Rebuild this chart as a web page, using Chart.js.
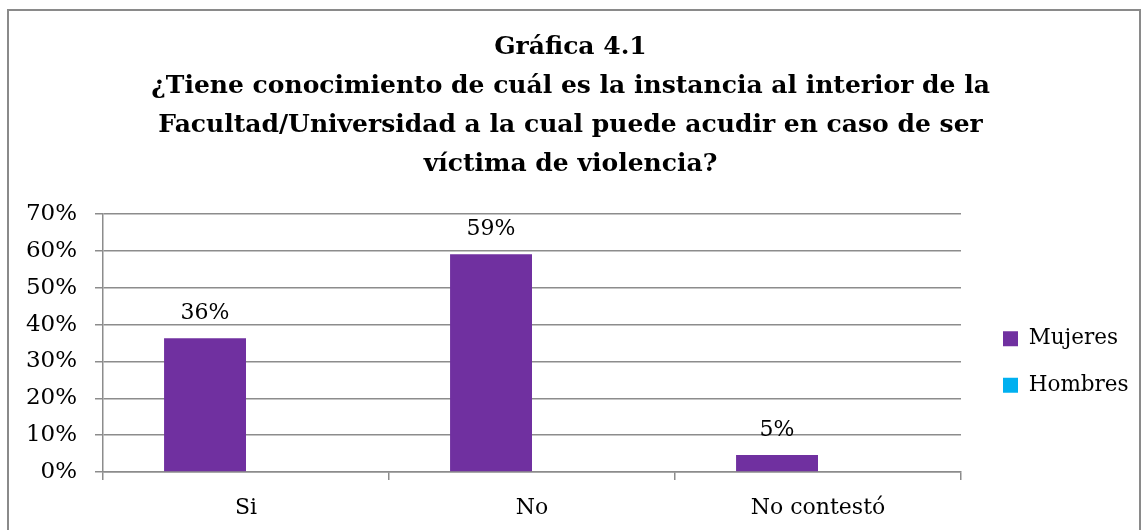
<!DOCTYPE html>
<html>
<head>
<meta charset="utf-8">
<script src="https://cdn.jsdelivr.net/npm/chart.js@4"></script>
<style>
    html, body { margin: 0; padding: 0; background: #fff; overflow: hidden; }
    #wrap { position: relative; width: 1141px; height: 530px; }
    #frame {
        position: absolute; left: 7px; top: 9px; width: 1130px; height: 540px;
        border: 2px solid #8a8a8a; pointer-events: none;
    }
</style>
</head>
<body>
<div id="wrap">
    <canvas id="chart" width="1141" height="530"></canvas>
    <div id="frame"></div>
</div>
<script>
// ############ data ############
const categories = ["Si", "No", "No contestó"];
const mujeres = [36.3, 59.1, 4.6];
const hombres = [null, null, null];
const yTicks = [0, 10, 20, 30, 40, 50, 60, 70];
const titleLines = [
    "Gráfica 4.1",
    "¿Tiene conocimiento de cuál es la instancia al interior de la",
    "Facultad/Universidad a la cual puede acudir en caso de ser",
    "víctima de violencia?",
];

const FONT = "'DejaVu Serif', serif";
const GRID = "#8c8c8c";

// fixed legend width, then nudge the legend box into place
const legendPlace = {
    id: "legendPlace",
    afterInit(chart) {
        const lg = chart.legend;
        const fit = lg.fit;
        lg.fit = function () {
            fit.call(this);
            this.width = 180;
        };
    },
    afterLayout(chart) {
        const lg = chart.legend;
        lg.left += 17;
        lg.right += 17;
        lg.top += 97;
        lg.bottom += 97;
    },
};

// value labels above the Mujeres bars
const barLabels = {
    id: "barLabels",
    afterDatasetsDraw(chart) {
        const ctx = chart.ctx;
        const meta = chart.getDatasetMeta(0);
        ctx.save();
        ctx.font = "22px " + FONT;
        ctx.fillStyle = "#000";
        ctx.textAlign = "center";
        ctx.textBaseline = "middle";
        meta.data.forEach((bar, i) => {
            const v = chart.data.datasets[0].data[i];
            ctx.fillText(Math.round(v) + "%", bar.x, bar.y - 25);
        });
        ctx.restore();
    },
};

new Chart(document.getElementById("chart").getContext("2d"), {
    type: "bar",
    data: {
        labels: categories,
        datasets: [
            {
                label: "Mujeres",
                data: mujeres,
                backgroundColor: "#7030A0",
                categoryPercentage: 0.573,
                barPercentage: 1,
            },
            {
                label: "Hombres",
                data: hombres,
                backgroundColor: "#00B0F0",
                categoryPercentage: 0.573,
                barPercentage: 1,
            },
        ],
    },
    options: {
        responsive: false,
        animation: false,
        layout: { padding: 0 },
        plugins: {
            title: {
                display: true,
                text: titleLines,
                color: "#000",
                font: { family: FONT, size: 25, weight: "bold", lineHeight: 1.56 },
                padding: { top: 27.5, bottom: 30.5 },
            },
            legend: {
                position: "right",
                labels: {
                    boxWidth: 15,
                    boxHeight: 15,
                    padding: 25,
                    color: "#000",
                    font: { family: FONT, size: 21.5 },
                },
            },
            tooltip: { enabled: false },
        },
        scales: {
            y: {
                min: 0,
                max: 70,
                afterBuildTicks(scale) {
                    scale.ticks = yTicks.map((v) => ({ value: v }));
                },
                afterFit(scale) {
                    scale.width = 103;
                },
                ticks: {
                    padding: 18,
                    color: "#000",
                    font: { family: FONT, size: 23 },
                    callback: (v) => v + "%",
                },
                grid: { color: GRID, lineWidth: 1.5, tickLength: 8 },
                border: { color: GRID, width: 1.5 },
            },
            x: {
                afterFit(scale) {
                    scale.height = 58;
                },
                ticks: {
                    padding: 15,
                    color: "#000",
                    font: { family: FONT, size: 22 },
                },
                grid: {
                    drawOnChartArea: false,
                    color: GRID,
                    lineWidth: 1.5,
                    tickLength: 8,
                    offset: true,
                },
                border: { color: GRID, width: 1.5 },
            },
        },
    },
    plugins: [legendPlace, barLabels],
});
</script>
</body>
</html>
